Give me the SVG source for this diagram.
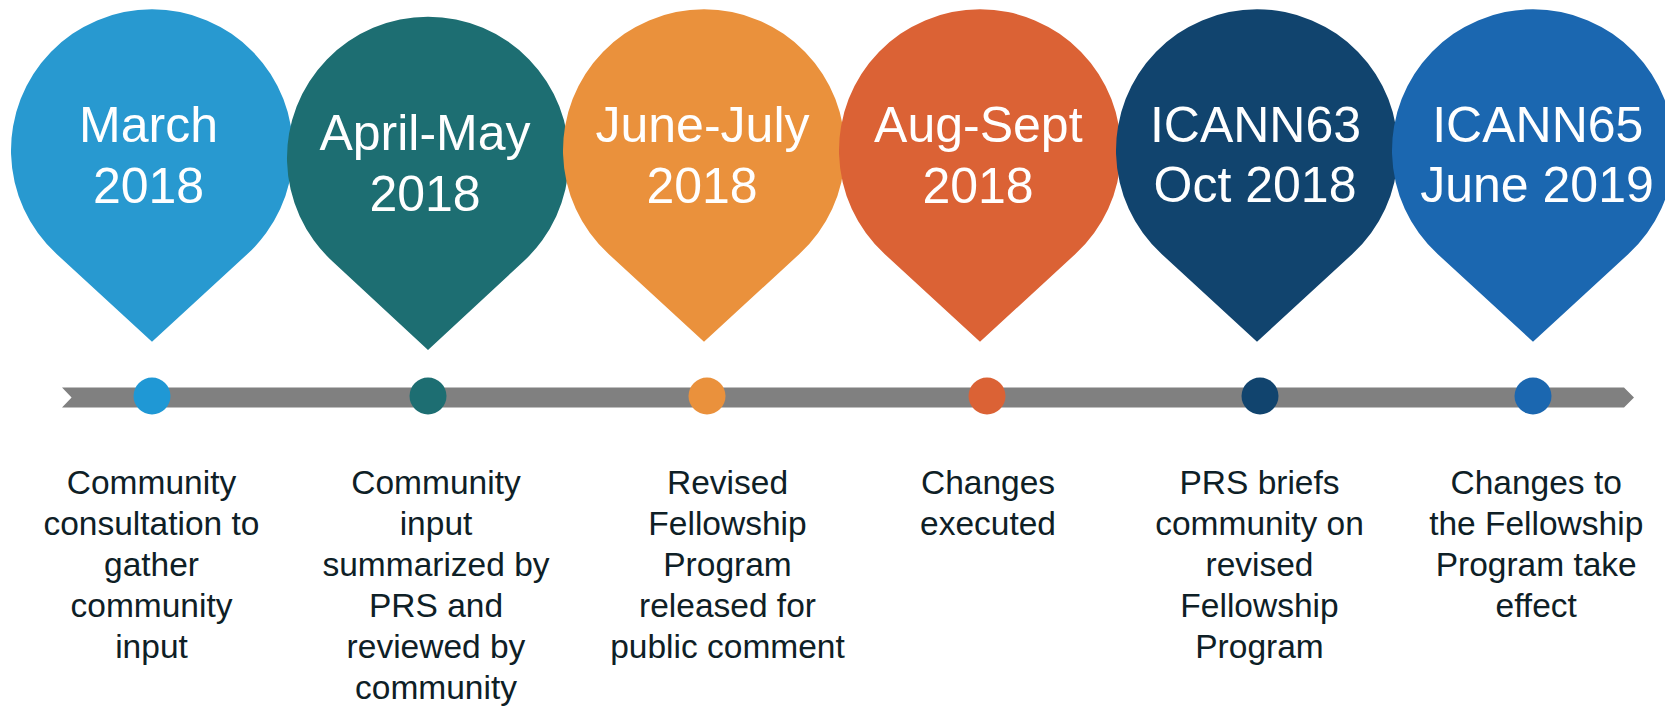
<svg xmlns="http://www.w3.org/2000/svg" width="1665" height="706" viewBox="0 0 1665 706">
<style>
.pt{font-family:"Liberation Sans",Arial,sans-serif;font-size:50px;fill:#ffffff;text-anchor:middle}
.dt{font-family:"Liberation Sans",Arial,sans-serif;font-size:33.5px;fill:#0e2026;text-anchor:middle}
</style>
<rect width="1665" height="706" fill="#ffffff"/>
<g id="connectors">
<path d="M62 387.5 L1624 387.5 L1634 397.5 L1624 407.5 L62 407.5 L71.6 397.5 Z" fill="#808080"/>
</g>
<g id="node1">
<path d="M152 341.7 L56.6 254.1 A141 141 0 1 1 247.4 254.1 Z" fill="#2899d0"/>
<text class="pt" x="148.5" y="141.7">March</text>
<text class="pt" x="148.5" y="202.7">2018</text>
<circle cx="152" cy="396" r="18.5" fill="#1f98d5"/>
<text class="dt" x="151.5"><tspan x="151.5" y="494">Community</tspan><tspan x="151.5" y="535">consultation to</tspan><tspan x="151.5" y="576">gather</tspan><tspan x="151.5" y="617">community</tspan><tspan x="151.5" y="658">input</tspan></text>
</g>
<g id="node2">
<path d="M428 350 L332.6 261.5 A141 141 0 1 1 523.4 261.5 Z" fill="#1d6e72"/>
<text class="pt" x="425" y="150">April-May</text>
<text class="pt" x="425" y="210.7">2018</text>
<circle cx="428" cy="396" r="18.5" fill="#1d6e72"/>
<text class="dt"><tspan x="436" y="494">Community</tspan><tspan x="436" y="535">input</tspan><tspan x="436" y="576">summarized by</tspan><tspan x="436" y="617">PRS and</tspan><tspan x="436" y="658">reviewed by</tspan><tspan x="436" y="699">community</tspan></text>
</g>
<g id="node3">
<path d="M704 341.7 L608.6 254.1 A141 141 0 1 1 799.4 254.1 Z" fill="#ea913c"/>
<text class="pt" x="702.5" y="141.7">June-July</text>
<text class="pt" x="702" y="202.7">2018</text>
<circle cx="707" cy="396" r="18.5" fill="#ea913c"/>
<text class="dt"><tspan x="727.5" y="494">Revised</tspan><tspan x="727.5" y="535">Fellowship</tspan><tspan x="727.5" y="576">Program</tspan><tspan x="727.5" y="617">released for</tspan><tspan x="727.5" y="658">public comment</tspan></text>
</g>
<g id="node4">
<path d="M980 341.7 L884.6 254.1 A141 141 0 1 1 1075.4 254.1 Z" fill="#db6235"/>
<text class="pt" x="978.3" y="141.7">Aug-Sept</text>
<text class="pt" x="978" y="202.7">2018</text>
<circle cx="987" cy="396" r="18.5" fill="#db6235"/>
<text class="dt"><tspan x="988" y="494">Changes</tspan><tspan x="988" y="535">executed</tspan></text>
</g>
<g id="node5">
<path d="M1257 341.7 L1161.6 254.1 A141 141 0 1 1 1352.4 254.1 Z" fill="#11446e"/>
<text class="pt" x="1255.5" y="141.7">ICANN63</text>
<text class="pt" x="1255" y="201.7">Oct 2018</text>
<circle cx="1260" cy="396" r="18.5" fill="#11446e"/>
<text class="dt"><tspan x="1259.5" y="494">PRS briefs</tspan><tspan x="1259.5" y="535">community on</tspan><tspan x="1259.5" y="576">revised</tspan><tspan x="1259.5" y="617">Fellowship</tspan><tspan x="1259.5" y="658">Program</tspan></text>
</g>
<g id="node6">
<path d="M1533 341.7 L1437.6 254.1 A141 141 0 1 1 1628.4 254.1 Z" fill="#1b67b0"/>
<text class="pt" x="1537.8" y="141.7">ICANN65</text>
<text class="pt" x="1537" y="201.7">June 2019</text>
<circle cx="1533" cy="396" r="18.5" fill="#1b67b0"/>
<text class="dt"><tspan x="1536.2" y="494">Changes to</tspan><tspan x="1536.2" y="535">the Fellowship</tspan><tspan x="1536.2" y="576">Program take</tspan><tspan x="1536.2" y="617">effect</tspan></text>
</g>
</svg>
